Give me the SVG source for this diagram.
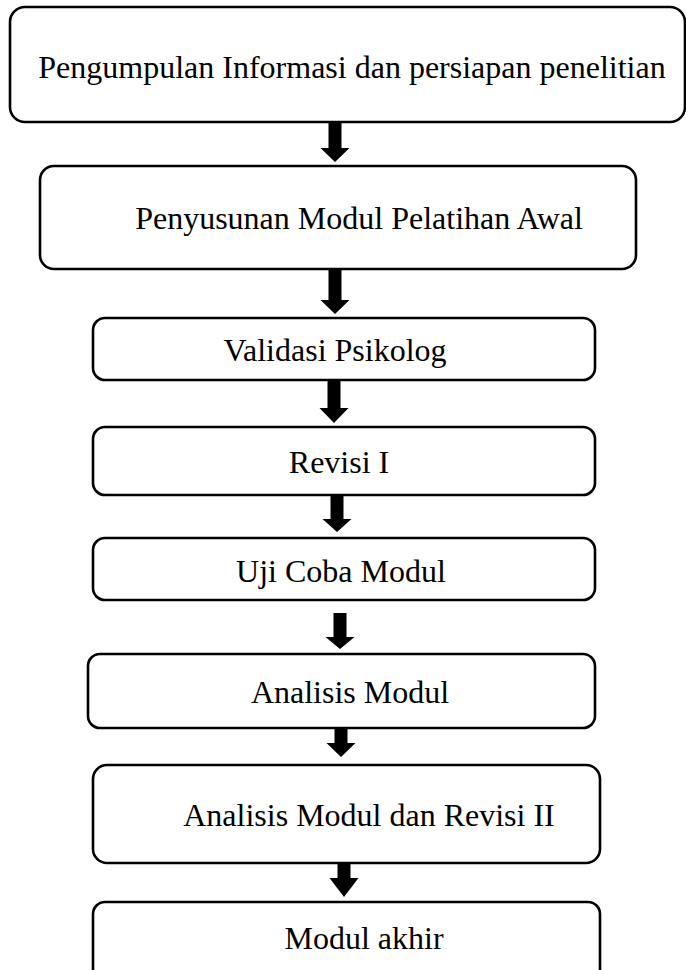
<svg xmlns="http://www.w3.org/2000/svg" width="686" height="970" viewBox="0 0 686 970">
<style>
.box{fill:#fff;stroke:#000;stroke-width:2.6}
.lbl{font-family:"Liberation Serif","Times New Roman",serif;font-size:32px;fill:#000;text-anchor:middle}
.arr{fill:#000;stroke:none}
</style>
<rect width="686" height="970" fill="#fff"/>
<g id="n1"><rect class="box" x="10" y="7" width="675" height="115" rx="15"/><text class="lbl" x="352" y="78">Pengumpulan Informasi dan persiapan penelitian</text></g>
<g id="n2"><rect class="box" x="40" y="166" width="596" height="103" rx="14"/><text class="lbl" x="359" y="229">Penyusunan Modul Pelatihan Awal</text></g>
<g id="n3"><rect class="box" x="93" y="318" width="502" height="62" rx="12"/><text class="lbl" x="335" y="361">Validasi Psikolog</text></g>
<g id="n4"><rect class="box" x="93" y="427" width="502" height="68" rx="12"/><text class="lbl" x="339" y="473">Revisi I</text></g>
<g id="n5"><rect class="box" x="93" y="538" width="502" height="62" rx="12"/><text class="lbl" x="341" y="582">Uji Coba Modul</text></g>
<g id="n6"><rect class="box" x="88" y="654" width="507" height="74" rx="12"/><text class="lbl" x="350" y="703">Analisis Modul</text></g>
<g id="n7"><rect class="box" x="93" y="765" width="507" height="98" rx="14"/><text class="lbl" x="369" y="826">Analisis Modul dan Revisi II</text></g>
<g id="n8"><rect class="box" x="93" y="902" width="507" height="90" rx="12"/><text class="lbl" x="364" y="949">Modul akhir</text></g>
<g id="connectors">
<polygon class="arr" points="328.5,123 341.5,123 341.5,148 349.5,148 335,162 320.5,148 328.5,148"/>
<polygon class="arr" points="328.5,270 341.5,270 341.5,300 349.5,300 335,314 320.5,300 328.5,300"/>
<polygon class="arr" points="327.5,381 340.5,381 340.5,408 348.5,408 334,423 319.5,408 327.5,408"/>
<polygon class="arr" points="330.5,496 343.5,496 343.5,519 351.5,519 337,532 322.5,519 330.5,519"/>
<polygon class="arr" points="333.5,613 346.5,613 346.5,637 354.5,637 340,649 325.5,637 333.5,637"/>
<polygon class="arr" points="334.5,729 347.5,729 347.5,743 355.5,743 341,757 326.5,743 334.5,743"/>
<polygon class="arr" points="337.5,864 350.5,864 350.5,878 358.5,878 344,897 329.5,878 337.5,878"/>
</g>
</svg>
